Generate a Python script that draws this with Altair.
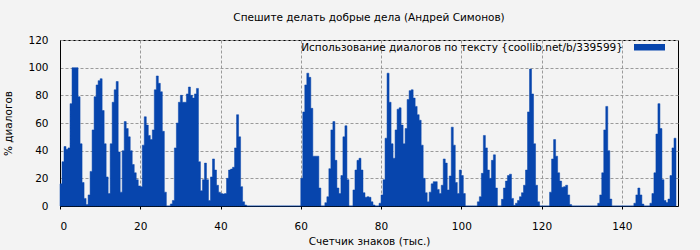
import altair as alt
import pandas as pd

TITLE = "Спешите делать добрые дела (Андрей Симонов)"
X_TITLE = "Счетчик знаков (тыс.)"
Y_TITLE = "% диалогов"
SERIES = "Использование диалогов по тексту {coollib.net/b/339599}"

X_STEP = 0.5                      # thousand characters per sample
X_DOMAIN = [0, 154]
Y_DOMAIN = [0, 120]
X_TICKS = [0, 20, 40, 60, 80, 100, 120, 140]
Y_TICKS = [0, 20, 40, 60, 80, 100, 120]

# % of dialogue per 0.5k-character window
pct_000 = [16, 32, 43, 41, 42, 74, 100, 100, 100, 79, 45, 17, 5.5, 1, 8, 25, 55, 79, 87.5, 90.6]
pct_010 = [92, 69, 45, 21, 9, 45, 75, 84, 90, 39, 10, 40, 61, 56, 50, 40, 30, 24, 19, 14.5]
pct_020 = [14, 44, 64.5, 58.5, 51, 48, 55, 84, 94, 88.7, 82.6, 54, 10, 0, 0, 1.5, 4, 42, 60, 75]
pct_030 = [80, 75, 75, 81, 86, 80, 78, 81, 85, 32, 11, 19, 31, 19, 4, 21, 34, 26, 15, 10]
pct_040 = [9, 8.7, 9, 20, 26, 26.7, 28, 42, 66, 50, 14, 3, 0.7, 0, 0, 0, 0, 0, 0, 0]
pct_050 = [0, 0, 0, 0, 0, 0, 0, 0, 0, 0, 0, 0, 0, 0, 0, 0, 0, 0, 0, 0]
pct_060 = [20, 68, 87.5, 96, 93, 70.6, 36, 36, 36, 13, 0, 0, 2.4, 6.7, 27, 55, 61, 33, 13, 9]
pct_070 = [22, 50, 58, 19, 0, 0, 11.6, 26, 33, 34.5, 26, 9.6, 6.3, 6.7, 6.3, 3, 0.7, 0, 0, 2]
pct_080 = [8, 19, 49, 96, 75, 45, 34.5, 55, 70, 71, 58.5, 45, 56, 77, 83.4, 84, 78, 72, 66, 62]
pct_090 = [44, 20, 9.6, 3, 10, 16, 17.6, 17.6, 12, 9, 15, 34, 31, 11.6, 21.7, 57, 44, 17, 9, 26]
pct_100 = [22, 9, 0, 0, 0, 0, 0, 0, 3, 6.7, 23.6, 51, 42, 26, 20, 33, 37, 13, 0, 0]
pct_110 = [4.8, 13, 18, 22, 23, 5.5, 0.5, 2, 4, 6.7, 9.6, 15, 26, 68, 99, 81, 45, 15, 3, 0]
pct_120 = [0, 0, 0, 0, 10, 34, 48, 36, 24, 18, 13.5, 14, 15, 8, 1, 0, 0, 0, 0, 0]
pct_130 = [0, 0, 0, 0, 0, 0, 0, 0, 2, 8, 24, 55, 72, 40, 5, 0, 0, 0, 0, 0]
pct_140 = [0, 0, 0, 0, 0, 0, 2, 8, 13, 8, 1.4, 0, 0, 0, 2, 9, 24, 52, 74, 56]
pct_150 = [19, 4, 2.5, 5, 22, 42, 49]

values = (pct_000 + pct_010 + pct_020 + pct_030 + pct_040 + pct_050 + pct_060
          + pct_070 + pct_080 + pct_090 + pct_100 + pct_110 + pct_120 + pct_130
          + pct_140 + pct_150)
xs = [i * X_STEP for i in range(len(values))]
# closing edge of the last window so the step area ends there
xs.append(xs[-1] + X_STEP)
values.append(values[-1])
df = pd.DataFrame({"k": xs, "p": values})

BLUE = "#0745ad"
FONT = "DejaVu Sans"
FS = 10.5
BG = "#f3f3f3"

area = alt.Chart(df).mark_area(
    interpolate="step-after", color=BLUE, opacity=1, stroke=BLUE, strokeWidth=0.5
).encode(
    x=alt.X("k:Q",
            scale=alt.Scale(domain=X_DOMAIN, nice=False, zero=False),
            axis=alt.Axis(values=X_TICKS, title=X_TITLE, format="d",
                          ticks=True, tickSize=3, labelPadding=12, titlePadding=5)),
    y=alt.Y("p:Q",
            scale=alt.Scale(domain=Y_DOMAIN, nice=False),
            axis=alt.Axis(values=Y_TICKS, title=Y_TITLE, format="d",
                          ticks=False, labelPadding=12, titlePadding=14)),
)

legend_df = pd.DataFrame({"label": [SERIES]})
legend_text = alt.Chart(legend_df).mark_text(
    align="right", baseline="alphabetic", font=FONT, fontSize=FS, color="black"
).encode(x=alt.value(563), y=alt.value(10.5), text="label:N")
legend_box = alt.Chart(legend_df).mark_rect(color=BLUE).encode(
    x=alt.value(574), x2=alt.value(605), y=alt.value(4), y2=alt.value(10.5)
)

chart = alt.layer(area, legend_text, legend_box).properties(
    width=618,
    height=166,
    title=alt.TitleParams(TITLE, font=FONT, fontSize=FS, fontWeight="normal",
                          color="black", anchor="middle", offset=12),
    autosize=alt.AutoSizeParams(type="none"),
    padding={"left": 60, "top": 40, "right": 22, "bottom": 44},
    background=BG,
).configure_view(
    stroke="black", strokeWidth=1, fill=BG
).configure_axis(
    grid=True, gridColor="#9a9a9a", gridDash=[3, 2], gridWidth=1,
    domain=True, domainColor="black", domainWidth=1,
    tickColor="black",
    labelFont=FONT, labelFontSize=FS, labelColor="black",
    titleFont=FONT, titleFontSize=FS, titleFontWeight="normal", titleColor="black",
    zindex=1,
)

chart.save("out.html", embed_options={"renderer": "svg", "actions": False})
